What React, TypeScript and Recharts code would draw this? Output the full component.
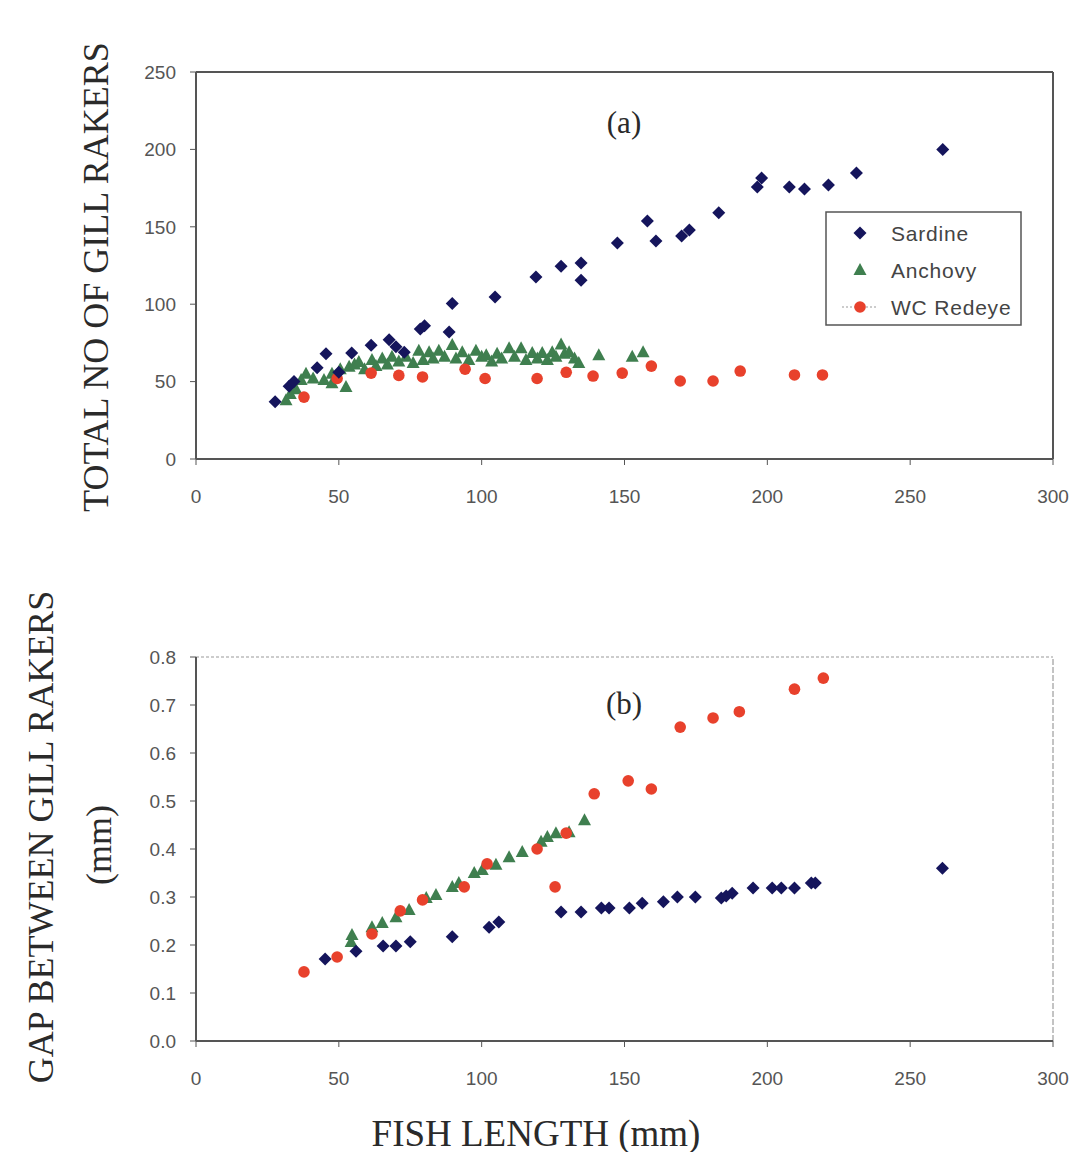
import React from 'react';
import { ScatterChart, Scatter, XAxis, YAxis, ReferenceLine } from 'recharts';

// panel (a): total number of gill rakers vs fish length
const sardineLenA = [27.7, 32.6, 34.3, 42.4, 45.5, 50, 54.5, 61.3, 67.6, 70, 72.9, 78.5, 80, 88.6, 89.7, 104.7, 119, 127.8, 134.8, 134.8, 147.5, 158, 161, 170, 172.7, 183, 196.5, 198, 207.7, 213, 221.4, 231.2, 261.4];
const sardineRakers = [37, 47, 50, 59, 68, 56, 68.5, 73.5, 77, 72.5, 69, 84, 86, 82, 100.5, 104.6, 117.6, 124.5, 126.6, 115.5, 139.5, 153.7, 140.8, 144, 148, 159, 175.7, 181.5, 175.7, 174.4, 177, 184.7, 200];

const anchovyLenA = [31.5, 33, 35, 36.8, 38.5, 41, 44.8, 47.6, 47.6, 50.5, 52.5, 53.6, 55.5, 57, 59, 61.6, 63, 65.2, 67, 68.6, 71, 73.5, 76, 78, 79.5, 81.6, 83, 85, 87, 89.7, 91, 93.2, 95.5, 98, 100, 101.6, 103.5, 105.4, 107, 109.6, 111.5, 113.8, 115.5, 117.7, 119.5, 121.2, 123, 124.7, 126, 127.8, 129, 130.6, 132.5, 134, 141, 152.7, 156.5];
const anchovyRakers = [38, 42, 45, 51, 55, 52, 51, 55, 49, 58, 46.5, 59.6, 61, 62.6, 58, 64, 60, 65, 61, 66, 63, 66, 62, 70, 64, 69, 65, 70, 66, 73.6, 65, 69, 64, 70, 66, 67, 63, 68, 65, 71.6, 66, 71.6, 64, 68.5, 65, 68.5, 64, 69, 66, 74, 68, 69, 65, 62, 67, 66, 69];

const redeyeLenA = [37.8, 49.4, 61.3, 71, 79.3, 94.2, 101.2, 119.4, 129.6, 139, 149.2, 159.4, 169.5, 181, 190.5, 209.5, 219.3];
const redeyeRakers = [40, 52, 55.5, 54, 53, 58, 52, 52, 56, 53.6, 55.5, 60, 50.4, 50.4, 56.8, 54.3, 54.3];

// panel (b): gap between gill rakers (mm) vs fish length
const sardineLenB = [45.2, 56, 65.5, 70, 75, 89.7, 102.6, 106, 127.8, 134.8, 141.9, 144.6, 151.7, 156.2, 163.6, 168.5, 174.8, 183.9, 185.6, 187.7, 195, 201.7, 204.9, 209.5, 215.4, 216.8, 261.3];
const sardineGap = [0.171, 0.187, 0.198, 0.198, 0.207, 0.217, 0.237, 0.248, 0.269, 0.269, 0.277, 0.277, 0.277, 0.287, 0.29, 0.3, 0.3, 0.298, 0.302, 0.308, 0.319, 0.319, 0.319, 0.319, 0.329, 0.329, 0.36];

const anchovyLenB = [54.3, 54.6, 61.6, 65.2, 70, 74.6, 80.6, 84, 89.7, 92, 97.4, 100.2, 105, 109.6, 114.2, 120.8, 123, 126, 130.6, 136];
const anchovyGap = [0.206, 0.221, 0.237, 0.246, 0.258, 0.273, 0.298, 0.304, 0.321, 0.329, 0.35, 0.356, 0.367, 0.383, 0.394, 0.415, 0.425, 0.433, 0.435, 0.46];

const redeyeLenB = [37.8, 49.4, 61.6, 71.5, 79.3, 93.9, 101.9, 119.4, 125.7, 129.6, 139.4, 151.3, 159.4, 169.5, 181, 190.2, 209.5, 219.6];
const redeyeGap = [0.144, 0.175, 0.223, 0.271, 0.294, 0.321, 0.369, 0.4, 0.321, 0.433, 0.515, 0.542, 0.525, 0.654, 0.673, 0.686, 0.733, 0.756];

const xTicks = [0, 50, 100, 150, 200, 250, 300];
const yTicksA = [0, 50, 100, 150, 200, 250];
const yTicksB = [0, 0.1, 0.2, 0.3, 0.4, 0.5, 0.6, 0.7, 0.8];

const legendNames = ['Sardine', 'Anchovy', 'WC Redeye'];

const zip = (xs: number[], ys: number[]) => xs.map((x, i) => ({ x, y: ys[i] }));

const NAVY = '#15155c';
const GREEN = '#3f7f4f';
const RED = '#e8412c';
const AXIS = '#555';

const Diamond = ({ cx, cy }: any) => {
  const s = 6.5;
  return <polygon points={`${cx},${cy - s} ${cx + s},${cy} ${cx},${cy + s} ${cx - s},${cy}`} fill={NAVY} />;
};
const Triangle = ({ cx, cy }: any) => (
  <polygon points={`${cx},${cy - 7} ${cx + 6.5},${cy + 5} ${cx - 6.5},${cy + 5}`} fill={GREEN} />
);
const Dot = ({ cx, cy }: any) => <circle cx={cx} cy={cy} r={5.8} fill={RED} />;

const tickStyle = { fill: '#555', fontSize: 19, fontFamily: '"Liberation Sans", Arial, sans-serif' };
const serif = '"Liberation Serif", "Times New Roman", serif';

const Panel = ({ top, height, margin, yDomain, yTicks, fmt, series, boxed }: any) => (
  <div style={{ position: 'absolute', left: 0, top }}>
    <ScatterChart width={1074} height={height} margin={margin}>
      <XAxis
        type="number"
        dataKey="x"
        domain={[0, 300]}
        ticks={xTicks}
        height={60}
        tickSize={6}
        tickMargin={25}
        tick={tickStyle}
        axisLine={{ stroke: AXIS, strokeWidth: 2 }}
        tickLine={{ stroke: AXIS }}
      />
      <YAxis
        type="number"
        dataKey="y"
        domain={yDomain}
        ticks={yTicks}
        width={60}
        tickSize={6}
        tickMargin={14}
        tick={tickStyle}
        tickFormatter={fmt}
        axisLine={{ stroke: AXIS, strokeWidth: 2 }}
        tickLine={{ stroke: AXIS }}
      />
      {boxed ? (
        <ReferenceLine y={yDomain[1]} stroke={AXIS} strokeWidth={2} />
      ) : (
        <ReferenceLine y={yDomain[1]} stroke="#999" strokeDasharray="3 2" />
      )}
      {boxed ? (
        <ReferenceLine x={300} stroke={AXIS} strokeWidth={2} />
      ) : (
        <ReferenceLine x={300} stroke="#888" strokeDasharray="6 2" />
      )}
      <Scatter data={series[1]} shape={<Triangle />} isAnimationActive={false} />
      <Scatter data={series[2]} shape={<Dot />} isAnimationActive={false} />
      <Scatter data={series[0]} shape={<Diamond />} isAnimationActive={false} />
    </ScatterChart>
  </div>
);

export default function App() {
  const seriesA = [zip(sardineLenA, sardineRakers), zip(anchovyLenA, anchovyRakers), zip(redeyeLenA, redeyeRakers)];
  const seriesB = [zip(sardineLenB, sardineGap), zip(anchovyLenB, anchovyGap), zip(redeyeLenB, redeyeGap)];
  const legendY = [233, 270, 307];

  return (
    <div style={{ position: 'absolute', left: 0, top: 0, width: 1074, height: 1152, background: '#fff' }}>
      <Panel
        top={0}
        height={540}
        margin={{ top: 72, right: 21, left: 136, bottom: 21 }}
        yDomain={[0, 250]}
        yTicks={yTicksA}
        fmt={(v: number) => String(v)}
        series={seriesA}
        boxed
      />
      <Panel
        top={600}
        height={552}
        margin={{ top: 57, right: 21, left: 136, bottom: 51 }}
        yDomain={[0, 0.8]}
        yTicks={yTicksB}
        fmt={(v: number) => v.toFixed(1)}
        series={seriesB}
        boxed={false}
      />
      <svg width={1074} height={1152} style={{ position: 'absolute', left: 0, top: 0, pointerEvents: 'none' }}>
        <g fontFamily={serif} fill="#2a2a2a">
          <text x={96} y={277} fontSize={36} textAnchor="middle" dominantBaseline="central" transform="rotate(-90 96 277)">
            TOTAL NO OF GILL RAKERS
          </text>
          <text x={41} y={837} fontSize={36} textAnchor="middle" dominantBaseline="central" transform="rotate(-90 41 837)">
            GAP BETWEEN GILL RAKERS
          </text>
          <text x={99} y={845} fontSize={36} textAnchor="middle" dominantBaseline="central" transform="rotate(-90 99 845)">
            (mm)
          </text>
          <text x={536} y={1133} fontSize={37} textAnchor="middle" dominantBaseline="central">
            FISH LENGTH (mm)
          </text>
          <text x={624} y={122} fontSize={31} textAnchor="middle" dominantBaseline="central">(a)</text>
          <text x={624} y={703} fontSize={31} textAnchor="middle" dominantBaseline="central">(b)</text>
        </g>
        <rect x={826} y={212} width={195} height={113} fill="#fff" stroke={AXIS} strokeWidth={1.5} />
        <Diamond cx={860} cy={legendY[0]} />
        <Triangle cx={860} cy={legendY[1]} />
        <line x1={842} y1={legendY[2]} x2={878} y2={legendY[2]} stroke="#999" strokeDasharray="2 2" />
        <Dot cx={860} cy={legendY[2]} />
        {legendNames.map((n, i) => (
          <text key={n} x={891} y={legendY[i]} fontSize={21} fill="#444" dominantBaseline="central" letterSpacing={0.8} fontFamily='"Liberation Sans", Arial, sans-serif'>
            {n}
          </text>
        ))}
      </svg>
    </div>
  );
}
